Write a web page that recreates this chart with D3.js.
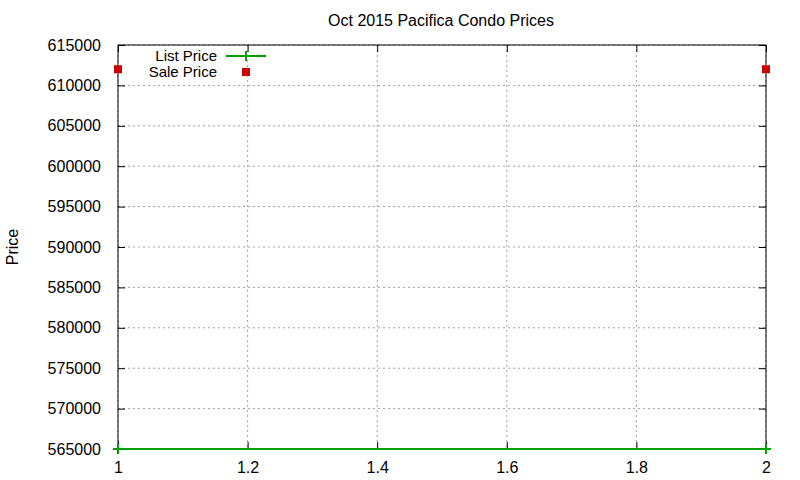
<!DOCTYPE html>
<html>
<head>
<meta charset="utf-8">
<script src="https://cdn.jsdelivr.net/npm/d3@7"></script>
<style>
  body { margin: 0; background: #fff; }
  text { font-family: "Liberation Sans", Arial, sans-serif; fill: #000; }
</style>
</head>
<body>
<div id="graf"></div>
<script>
// datos
titulo = 'Oct 2015 Pacifica Condo Prices'
etiquetaY = 'Price'
listaX = [1, 2]
listaPrecio = [565000, 565000]
ventaX = [1, 2]
ventaPrecio = [612000, 612000]
ticksX = [1, 1.2, 1.4, 1.6, 1.8, 2]
ticksY = [565000, 570000, 575000, 580000, 585000, 590000, 595000, 600000, 605000, 610000, 615000]
leyenda = ['List Price', 'Sale Price']

ancho_total = 800
alto_total = 480
margins = { top: 45, left: 118, right: 34, bottom: 31 }
ancho = ancho_total - margins.left - margins.right
alto = alto_total - margins.top - margins.bottom

verde = '#00a000'
rojo = '#cc0000'

svg = d3.select('#graf').append('svg')
  .attr('width', ancho_total)
  .attr('height', alto_total)

g = svg.append('g')
  .attr('transform', `translate(${margins.left}, ${margins.top})`)

x = d3.scaleLinear().domain([1, 2]).range([0, ancho])
y = d3.scaleLinear().domain([565000, 615000]).range([alto, 0])

// rejilla
g.append('g').selectAll('line')
  .data(ticksY)
  .join('line')
    .attr('x1', 0).attr('x2', ancho)
    .attr('y1', d => y(d)).attr('y2', d => y(d))
    .attr('stroke', '#a0a0a0').attr('stroke-dasharray', '2,3')
g.append('g').selectAll('line')
  .data(ticksX)
  .join('line')
    .attr('x1', d => x(d)).attr('x2', d => x(d))
    .attr('y1', 0).attr('y2', alto)
    .attr('stroke', '#a0a0a0').attr('stroke-dasharray', '2,3')

// ejes
yAxis = g.append('g')
  .call(d3.axisLeft(y).tickValues(ticksY).tickSize(-7).tickPadding(17).tickFormat(d3.format('d')))
yAxis2 = g.append('g')
  .attr('transform', `translate(${ancho}, 0)`)
  .call(d3.axisRight(y).tickValues(ticksY).tickSize(-7).tickFormat(''))
xAxis = g.append('g')
  .attr('transform', `translate(0, ${alto})`)
  .call(d3.axisBottom(x).tickValues(ticksX).tickSize(-7).tickPadding(13).tickFormat(d => d3.format('')(d)))
xAxis2 = g.append('g')
  .call(d3.axisTop(x).tickValues(ticksX).tickSize(-7).tickFormat(''))

svg.selectAll('.domain').remove()
svg.selectAll('.tick text').style('font-size', '16px').style('font-family', '"Liberation Sans", Arial, sans-serif')
svg.selectAll('.tick line').attr('stroke', '#000')

g.append('rect')
  .attr('width', ancho).attr('height', alto)
  .attr('fill', 'none').attr('stroke', '#000').attr('stroke-width', 1)

// serie lista
lista = listaX.map((d, i) => ({ x: d, y: listaPrecio[i] }))
g.append('path')
  .datum(lista)
  .attr('fill', 'none')
  .attr('stroke', verde)
  .attr('stroke-width', 2)
  .attr('d', d3.line().x(d => x(d.x)).y(d => y(d.y)))
g.selectAll('.mas')
  .data(lista)
  .join('path')
    .attr('class', 'mas')
    .attr('d', d => `M${x(d.x) - 5},${y(d.y)}h10M${x(d.x)},${y(d.y) - 5}v10`)
    .attr('stroke', verde).attr('stroke-width', 2)

// serie venta
venta = ventaX.map((d, i) => ({ x: d, y: ventaPrecio[i] }))
g.selectAll('.cuadro')
  .data(venta)
  .join('rect')
    .attr('class', 'cuadro')
    .attr('x', d => x(d.x) - 4).attr('y', d => y(d.y) - 4)
    .attr('width', 8).attr('height', 8)
    .attr('fill', rojo)

// leyenda
ley = svg.append('g')
ley.append('text').attr('x', 217).attr('y', 61).attr('text-anchor', 'end')
  .style('font-size', '15px').text(leyenda[0])
ley.append('path').attr('d', 'M226,56h40M246,51v10').attr('stroke', verde).attr('stroke-width', 2)
ley.append('text').attr('x', 217).attr('y', 77).attr('text-anchor', 'end')
  .style('font-size', '15px').text(leyenda[1])
ley.append('rect').attr('x', 242).attr('y', 68).attr('width', 8).attr('height', 8).attr('fill', rojo)

// títulos
svg.append('text')
  .attr('x', 441).attr('y', 26)
  .attr('text-anchor', 'middle')
  .style('font-size', '16px')
  .text(titulo)
svg.append('text')
  .attr('transform', 'translate(18, 247) rotate(-90)')
  .attr('text-anchor', 'middle')
  .style('font-size', '16px')
  .text(etiquetaY)
</script>
</body>
</html>
